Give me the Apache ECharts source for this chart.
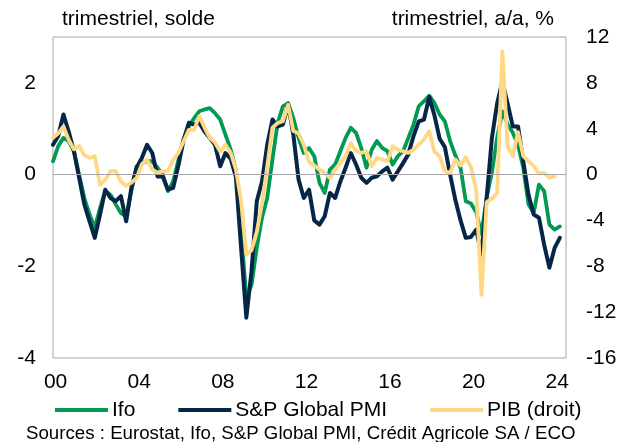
<!DOCTYPE html>
<html>
<head>
<meta charset="utf-8">
<script src="https://cdn.jsdelivr.net/npm/echarts@6/dist/echarts.min.js"></script>
<style>
html,body{margin:0;padding:0;background:#fff;}
#chart{width:626px;height:442px;}
</style>
</head>
<body>
<div id="chart"></div>
<script>
// Quarters from 1999T4 to 2024T1
const quarters = [];
for (let y = 1999, q = 4; quarters.length < 98; ) {
  quarters.push(y + 'T' + q);
  q++; if (q > 4) { q = 1; y++; }
}

// Ifo (solde, axe gauche)
const ifo = [0.29,0.62,0.80,0.73,0.51,0.0,-0.51,-0.87,-1.16,-0.73,
  -0.36,-0.44,-0.65,-0.84,-0.91,-0.36,0.18,0.25,0.29,0.29,
  0.15,0.0,-0.36,-0.15,0.32,0.78,1.05,1.23,1.38,1.42,
  1.45,1.34,1.20,0.87,0.55,0.10,-1.20,-2.70,-2.40,-1.60,
  -0.94,-0.51,0.33,1.13,1.49,1.56,1.23,0.80,0.47,0.58,
  0.40,-0.18,-0.40,0.11,0.22,0.51,0.80,1.02,0.91,0.58,
  0.15,0.54,0.73,0.58,0.51,0.22,0.40,0.51,0.80,1.09,
  1.49,1.60,1.72,1.56,1.31,1.16,0.73,0.42,0.15,-0.58,
  -0.63,-0.82,-1.30,-0.50,0.05,0.80,1.38,1.10,0.91,0.65,
  0.15,-0.65,-0.84,-0.22,-0.36,-1.09,-1.20,-1.13];

// S&P Global PMI (solde, axe gauche)
const pmi = [0.65,0.84,1.31,0.94,0.51,-0.07,-0.65,-1.02,-1.38,-0.87,
  -0.33,-0.51,-0.58,-0.47,-1.02,-0.29,0.15,0.36,0.65,0.47,
  -0.04,-0.04,-0.33,-0.29,0.20,0.75,1.13,1.09,1.13,0.94,
  0.80,0.65,0.18,0.47,0.35,-0.05,-1.60,-3.12,-2.10,-0.58,
  -0.15,0.65,1.20,1.05,1.09,1.53,0.87,-0.11,-0.51,-0.33,
  -1.00,-1.09,-0.91,-0.40,-0.51,-0.15,0.15,0.47,0.22,-0.07,
  -0.18,-0.07,-0.04,0.07,0.15,-0.11,0.07,0.25,0.44,0.84,
  1.16,1.20,1.69,1.29,0.78,0.60,0.00,-0.55,-1.00,-1.38,
  -1.36,-1.20,-1.75,-0.50,0.80,1.55,2.03,1.55,1.05,1.05,
  0.29,-0.44,-0.87,-0.94,-1.53,-2.03,-1.60,-1.38];

// PIB, glissement annuel en % (axe droit)
const pib = [3.2,3.6,4.2,3.05,2.2,2.5,1.7,1.45,1.6,-0.9,
  -0.45,0.3,0.3,-0.6,-1.0,-0.7,-0.3,0.9,1.3,0.45,
  0.15,0.3,0.3,1.3,1.9,2.9,3.9,3.9,5.1,4.1,
  3.2,2.8,2.0,2.6,1.9,0.45,-2.3,-7.0,-6.6,-5.0,
  -2.5,0.7,4.1,4.5,4.65,6.1,3.8,3.6,2.6,1.1,
  0.8,0.44,0.15,-0.29,0.44,1.02,1.6,2.76,2.03,1.89,
  2.03,0.73,1.45,1.31,1.16,2.47,2.18,2.03,1.89,2.18,
  2.62,3.05,3.78,2.0,1.6,0.29,0.15,1.31,0.8,1.5,
  0.65,-1.4,-10.5,-2.4,-2.1,-1.6,10.75,2.47,1.6,3.7,
  1.6,1.16,0.73,0.1,0.15,-0.29,-0.15];

const yearTicks = [2000,2004,2008,2012,2016,2020,2024];
const leftTicks = [-4,-2,0,2];

function qToX(label) {
  const y = +label.slice(0, 4), q = +label.slice(5);
  return y + (q - 0.5) / 4;
}
function toPairs(vals) {
  return vals.map((v, i) => [qToX(quarters[i]), v]);
}

const FONT = "'Liberation Sans', Arial, sans-serif";
const chart = echarts.init(document.getElementById('chart'), null, {renderer: 'canvas'});
chart.setOption({
  animation: false,
  backgroundColor: '#ffffff',
  textStyle: {fontFamily: FONT, color: '#000'},
  grid: {left: 53, right: 60, top: 37, bottom: 84, show: true, borderColor: '#a6a6a6', borderWidth: 1, backgroundColor: 'transparent'},
  xAxis: {
    type: 'value',
    min: 1999.875, max: 2024.42,
    axisLine: {show: false}, axisTick: {show: false}, splitLine: {show: false},
    axisLabel: {
      customValues: yearTicks,
      formatter: v => String(Math.round(v)).slice(2),
      fontSize: 21, color: '#000', fontFamily: FONT, margin: 14
    }
  },
  yAxis: [
    {
      type: 'value', min: -4, max: 3, interval: 1, position: 'left',
      axisLine: {show: false}, axisTick: {show: false}, splitLine: {show: false},
      axisLabel: {
        fontSize: 21, color: '#000', fontFamily: FONT, margin: 17,
        formatter: v => leftTicks.indexOf(v) >= 0 ? String(v) : ''
      }
    },
    {
      type: 'value', min: -16, max: 12, interval: 4, position: 'right',
      axisLine: {show: false}, axisTick: {show: false}, splitLine: {show: false},
      axisLabel: {fontSize: 21, color: '#000', fontFamily: FONT, margin: 20}
    }
  ],
  legend: {
    top: 398, left: 55, padding: 0,
    icon: 'rect', itemWidth: 53, itemHeight: 4, itemGap: 43,
    textStyle: {fontSize: 21, color: '#000', fontFamily: FONT, lineHeight: 24, padding: [0,0,0,-1]},
    data: ['Ifo', 'S&P Global PMI', 'PIB (droit)']
  },
  graphic: [
    {type: 'text', left: 62, top: 9, style: {text: 'trimestriel, solde', font: '21px ' + FONT, fill: '#000'}},
    {type: 'text', right: 72, top: 9, style: {text: 'trimestriel, a/a, %', font: '21px ' + FONT, fill: '#000'}},
    {type: 'text', left: 26, top: 424, style: {text: 'Sources : Eurostat, Ifo, S&P Global PMI, Crédit Agricole SA / ECO', font: '18.7px ' + FONT, fill: '#000'}}
  ],
  series: [
    {
      name: 'zero', type: 'line', data: [], yAxisIndex: 0, z: 1, silent: true,
      markLine: {silent: true, symbol: 'none', label: {show: false},
        lineStyle: {color: '#a6a6a6', width: 1, type: 'solid'}, data: [{yAxis: 0}]}
    },
    {name: 'Ifo', type: 'line', data: toPairs(ifo), yAxisIndex: 0, showSymbol: false, z: 2,
      lineStyle: {color: '#009a52', width: 3.8, cap: 'round', join: 'round'}, itemStyle: {color: '#009a52'}},
    {name: 'S&P Global PMI', type: 'line', data: toPairs(pmi), yAxisIndex: 0, showSymbol: false, z: 3,
      lineStyle: {color: '#062649', width: 4, cap: 'round', join: 'round'}, itemStyle: {color: '#062649'}},
    {name: 'PIB (droit)', type: 'line', data: toPairs(pib), yAxisIndex: 1, showSymbol: false, z: 4,
      lineStyle: {color: '#ffd885', width: 3.8, cap: 'round', join: 'round'}, itemStyle: {color: '#ffd885'}}
  ]
});
</script>
</body>
</html>
